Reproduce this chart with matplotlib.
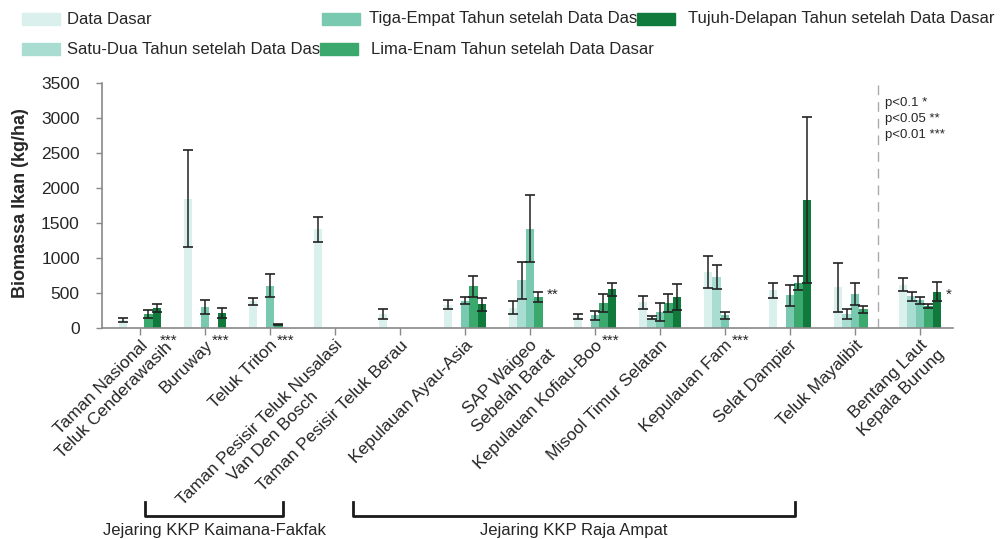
import numpy as np
import matplotlib
matplotlib.use("Agg")
import matplotlib.pyplot as plt
from matplotlib.patches import Rectangle
from matplotlib.lines import Line2D

plt.rcParams['font.family'] = ['Liberation Sans', 'DejaVu Sans']

nan = np.nan
categories = ["Taman Nasional\nTeluk Cenderawasih", "Buruway", "Teluk Triton",
              "Taman Pesisir Teluk Nusalasi\nVan Den Bosch", "Taman Pesisir Teluk Berau",
              "Kepulauan Ayau-Asia", "SAP Waigeo\nSebelah Barat", "Kepulauan Kofiau-Boo",
              "Misool Timur Selatan", "Kepulauan Fam", "Selat Dampier", "Teluk Mayalibit",
              "Bentang Laut\nKepala Burung"]
series_names = ["Data Dasar", "Satu-Dua Tahun setelah Data Dasar",
                "Tiga-Empat Tahun setelah Data Dasar", "Lima-Enam Tahun setelah Data Dasar",
                "Tujuh-Delapan Tahun setelah Data Dasar"]

data_dasar     = [115, 1850, 380, 1410, 200, 335, 290, 160, 365, 805, 540, 580, 620]
data_dasar_err = [25, 690, 55, 180, 70, 60, 95, 35, 95, 230, 105, 350, 95]
satu_dua       = [nan, nan, nan, nan, nan, nan, 680, nan, 150, 725, nan, 200, 455]
satu_dua_err   = [nan, nan, nan, nan, nan, nan, 260, nan, 25, 170, nan, 65, 65]
tiga_empat     = [nan, 300, 605, nan, nan, 390, 1420, 180, 230, 180, 465, 490, 395]
tiga_empat_err = [nan, 95, 160, nan, nan, 50, 480, 60, 125, 50, 150, 160, 45]
lima_enam      = [200, nan, 55, nan, nan, 600, 440, 360, 355, nan, 645, 270, 320]
lima_enam_err  = [55, nan, 8, nan, nan, 150, 75, 130, 125, nan, 95, 50, 30]
tujuh_delapan  = [285, 220, nan, nan, nan, 340, nan, 555, 445, nan, 1830, nan, 520]
tujuh_delapan_err = [55, 70, nan, nan, nan, 90, nan, 95, 185, nan, 1190, nan, 135]

values = [data_dasar, satu_dua, tiga_empat, lima_enam, tujuh_delapan]
errors = [data_dasar_err, satu_dua_err, tiga_empat_err, lima_enam_err, tujuh_delapan_err]
colors = ["#d9f0ec", "#a9ddd2", "#78c9b0", "#3ba86d", "#0f7a3b"]

label_stars = {0: "***", 1: "***", 2: "***", 7: "***", 9: "***"}
pvalue_lines = ["p<0.1 *", "p<0.05 **", "p<0.01 ***"]
groups = [("Jejaring KKP Kaimana-Fakfak", 145, 283), ("Jejaring KKP Raja Ampat", 353, 795)]

W, H = 1002, 539
fig = plt.figure(figsize=(W / 100, H / 100), dpi=100)
ax = fig.add_axes([102 / W, 1 - 328 / H, 851 / W, 245 / H])

x = np.arange(len(categories))
bw = 0.13
for k, (vals, errs, col) in enumerate(zip(values, errors, colors)):
    pos = x + (k - 2) * bw
    v = np.array(vals, float)
    e = np.array(errs, float)
    m = ~np.isnan(v)
    ax.bar(pos[m], v[m], width=bw, color=col, zorder=2)
    ax.errorbar(pos[m], v[m], yerr=e[m], fmt='none', ecolor='#222222',
                elinewidth=1.1, capsize=3.3, capthick=1.2, zorder=3)

ax.set_xlim(-0.585, 12.508)
ax.set_ylim(0, 3500)
ax.set_yticks(np.arange(0, 3501, 500))
ax.tick_params(axis='y', labelsize=12.5, length=4, width=1, color='#898989',
               pad=12, labelcolor='#262626')
ax.set_xticks(x)
ax.set_xticklabels([])
ax.tick_params(axis='x', length=5, width=1, color='#898989')
for s in ['top', 'right']:
    ax.spines[s].set_visible(False)
for s in ['left', 'bottom']:
    ax.spines[s].set_color('#898989')
    ax.spines[s].set_linewidth(1.2)

ax.set_ylabel("Biomassa Ikan (kg/ha)", fontsize=13, fontweight='bold', color='#262626')
ax.yaxis.set_label_coords(-0.0855, 0.51)

ax.axvline(11.354, color='#aaaaaa', lw=1.0, ls=(0, (7, 5)), zorder=1)

# x tick labels (rotated, first line anchored at tick)
fig.canvas.draw()
renderer = fig.canvas.get_renderer()
lab_fs = 12.5

def tw(s):
    t = fig.text(0, 0, s, fontsize=lab_fs)
    w = t.get_window_extent(renderer).width
    t.remove()
    return w

c45 = np.cos(np.pi / 4)
axis_y = H - 328
for i, lab in enumerate(categories):
    lines = lab.split("\n")
    xd = ax.transData.transform((i, 0))[0] + 5
    yd = axis_y - 15
    w0 = tw(lines[0])
    for j, ln in enumerate(lines):
        a = (tw(ln) - w0) / 2.0
        b = j * 19.0
        px = xd + a * c45 + b * c45
        py = yd + a * c45 - b * c45
        fig.text(px / W, py / H, ln, fontsize=lab_fs, rotation=45, rotation_mode='anchor',
                 ha='right', va='center', color='#262626')

for i, st in label_stars.items():
    xd = ax.transData.transform((i, 0))[0]
    off = 20 if i == 0 else 7
    fig.text((xd + off) / W, 1 - 334 / H, st, fontsize=11, ha='left', va='top', color='#262626')

ax.text(6.26, 470, "**", fontsize=11, ha='left', va='center', color='#262626')
ax.text(12.39, 480, "*", fontsize=11, ha='left', va='center', color='#262626')

for k, t in enumerate(pvalue_lines):
    fig.text(885 / W, 1 - (103 + 16 * k) / H, t, fontsize=9.5, ha='left', va='center',
             color='#262626')

# group brackets
for name, x0, x1 in groups:
    yb, yt = 516, 502
    fig.add_artist(Line2D([x0 / W, x0 / W, x1 / W, x1 / W],
                          [1 - yt / H, 1 - yb / H, 1 - yb / H, 1 - yt / H],
                          color='#1a1a1a', lw=2))
    fig.text((x0 + x1) / 2 / W, 1 - 530 / H, name, fontsize=12, ha='center', va='center',
             color='#262626')

# legend (fixed columns, later patches cover overflowing text)
leg_patch = [(22, 19), (22, 49), (322, 19), (320, 49), (637, 19)]
leg_text = [67, 67, 369, 371, 688]
for k, (name, col) in enumerate(zip(series_names, colors)):
    px, py = leg_patch[k]
    fig.add_artist(Rectangle((px / W, 1 - (py + 6) / H), 38 / W, 12 / H,
                             transform=fig.transFigure, color=col, zorder=5))
    fig.text(leg_text[k] / W, 1 - py / H, name, fontsize=12, ha='left', va='center',
             color='#262626', zorder=1)

fig.savefig("out.png", dpi=100, facecolor='white')
